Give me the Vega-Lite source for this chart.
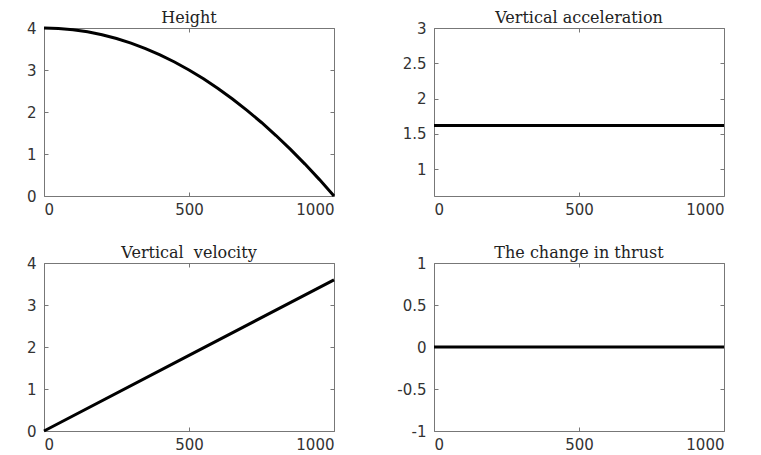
{
  "$schema": "https://vega.github.io/schema/vega-lite/v6.json",
  "padding": {"left": 25, "top": 9, "right": 5, "bottom": 5},
  "background": "white",
  "datasets": {
    "height": [
      {"t": 0, "v": 4.0}, {"t": 50, "v": 3.99}, {"t": 100, "v": 3.96}, {"t": 150, "v": 3.91},
      {"t": 200, "v": 3.84}, {"t": 250, "v": 3.75}, {"t": 300, "v": 3.64}, {"t": 350, "v": 3.51},
      {"t": 400, "v": 3.36}, {"t": 450, "v": 3.19}, {"t": 500, "v": 3.0}, {"t": 550, "v": 2.79},
      {"t": 600, "v": 2.56}, {"t": 650, "v": 2.31}, {"t": 700, "v": 2.04}, {"t": 750, "v": 1.75},
      {"t": 800, "v": 1.44}, {"t": 850, "v": 1.11}, {"t": 900, "v": 0.76}, {"t": 950, "v": 0.39},
      {"t": 1000, "v": 0.0}
    ],
    "accel": [{"t": 0, "v": 1.62}, {"t": 1000, "v": 1.62}],
    "velocity": [{"t": 0, "v": 0.0}, {"t": 500, "v": 1.8}, {"t": 1000, "v": 3.6}],
    "thrust": [{"t": 0, "v": 0.0}, {"t": 1000, "v": 0.0}]
  },
  "config": {
    "view": {"stroke": "#777777", "strokeWidth": 1},
    "axis": {
      "domain": false,
      "grid": false,
      "tickSize": -4,
      "tickColor": "#777777",
      "labelFont": "DejaVu Sans",
      "labelFontSize": 15,
      "labelColor": "#333333",
      "labelExpr": "'' + datum.value",
      "title": null
    },
    "axisX": {"labelPadding": 10},
    "axisY": {"labelPadding": 12},
    "title": {"font": "DejaVu Serif", "fontSize": 16, "fontWeight": "normal", "color": "#222222", "offset": -5},
    "line": {"color": "black", "strokeWidth": 3}
  },
  "columns": 2,
  "spacing": {"row": 67, "column": 100},
  "bounds": "flush",
  "concat": [
    {
      "title": "Height",
      "width": 290, "height": 168,
      "data": {"name": "height"},
      "layer": [
        {"mark": "line", "encoding": {
          "x": {"field": "t", "type": "quantitative", "scale": {"domain": [0, 1000], "nice": false}, "axis": {"values": [0, 500, 1000]}},
          "y": {"field": "v", "type": "quantitative", "scale": {"domain": [0, 4], "nice": false, "zero": false}, "axis": {"values": [0, 1, 2, 3, 4]}}}},
        {"mark": {"type": "line", "opacity": 0}, "encoding": {
          "x": {"field": "t", "type": "quantitative", "axis": {"orient": "top", "values": [0, 500, 1000], "labels": false}},
          "y": {"field": "v", "type": "quantitative", "axis": {"orient": "right", "values": [0, 1, 2, 3, 4], "labels": false}}}}
      ],
      "resolve": {"axis": {"x": "independent", "y": "independent"}}
    },
    {
      "title": "Vertical acceleration",
      "width": 290, "height": 168,
      "data": {"name": "accel"},
      "layer": [
        {"mark": "line", "encoding": {
          "x": {"field": "t", "type": "quantitative", "scale": {"domain": [0, 1000], "nice": false}, "axis": {"values": [0, 500, 1000]}},
          "y": {"field": "v", "type": "quantitative", "scale": {"domain": [0.62, 3], "nice": false, "zero": false}, "axis": {"values": [1, 1.5, 2, 2.5, 3]}}}},
        {"mark": {"type": "line", "opacity": 0}, "encoding": {
          "x": {"field": "t", "type": "quantitative", "axis": {"orient": "top", "values": [0, 500, 1000], "labels": false}},
          "y": {"field": "v", "type": "quantitative", "axis": {"orient": "right", "values": [1, 1.5, 2, 2.5, 3], "labels": false}}}}
      ],
      "resolve": {"axis": {"x": "independent", "y": "independent"}}
    },
    {
      "title": "Vertical \u00a0velocity",
      "width": 290, "height": 168,
      "data": {"name": "velocity"},
      "layer": [
        {"mark": "line", "encoding": {
          "x": {"field": "t", "type": "quantitative", "scale": {"domain": [0, 1000], "nice": false}, "axis": {"values": [0, 500, 1000]}},
          "y": {"field": "v", "type": "quantitative", "scale": {"domain": [0, 4], "nice": false, "zero": false}, "axis": {"values": [0, 1, 2, 3, 4]}}}},
        {"mark": {"type": "line", "opacity": 0}, "encoding": {
          "x": {"field": "t", "type": "quantitative", "axis": {"orient": "top", "values": [0, 500, 1000], "labels": false}},
          "y": {"field": "v", "type": "quantitative", "axis": {"orient": "right", "values": [0, 1, 2, 3, 4], "labels": false}}}}
      ],
      "resolve": {"axis": {"x": "independent", "y": "independent"}}
    },
    {
      "title": "The change in thrust",
      "width": 290, "height": 168,
      "data": {"name": "thrust"},
      "layer": [
        {"mark": "line", "encoding": {
          "x": {"field": "t", "type": "quantitative", "scale": {"domain": [0, 1000], "nice": false}, "axis": {"values": [0, 500, 1000]}},
          "y": {"field": "v", "type": "quantitative", "scale": {"domain": [-1, 1], "nice": false, "zero": false}, "axis": {"values": [-1, -0.5, 0, 0.5, 1]}}}},
        {"mark": {"type": "line", "opacity": 0}, "encoding": {
          "x": {"field": "t", "type": "quantitative", "axis": {"orient": "top", "values": [0, 500, 1000], "labels": false}},
          "y": {"field": "v", "type": "quantitative", "axis": {"orient": "right", "values": [-1, -0.5, 0, 0.5, 1], "labels": false}}}}
      ],
      "resolve": {"axis": {"x": "independent", "y": "independent"}}
    }
  ]
}
